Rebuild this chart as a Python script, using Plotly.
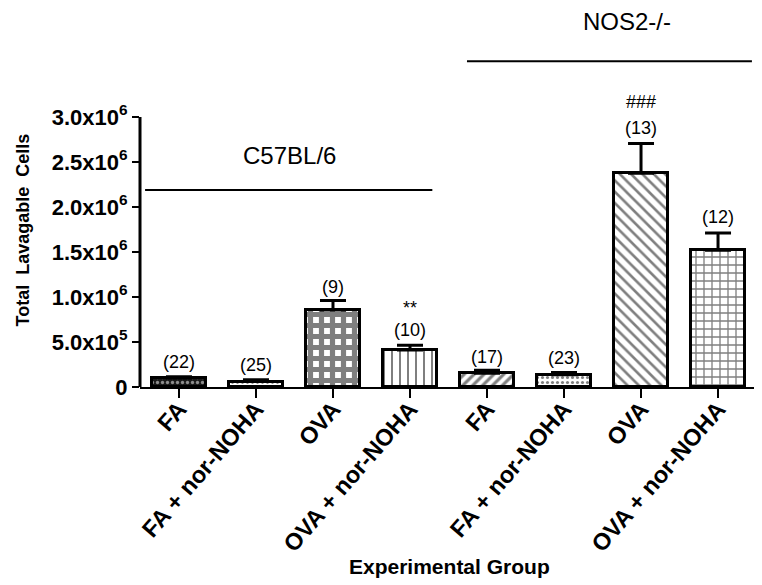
import plotly.graph_objects as go

categories = ["FA", "FA + nor-NOHA", "OVA", "OVA + nor-NOHA",
              "FA ", "FA + nor-NOHA ", "OVA ", "OVA + nor-NOHA "]
means = [1.0e5, 0.6e5, 8.56e5, 4.1e5, 1.52e5, 1.35e5, 2.375e6, 1.52e6]
sems = [0.15e5, 0.2e5, 1.05e5, 0.55e5, 0.35e5, 0.25e5, 3.3e5, 1.9e5]
n_labels = ["(22)", "(25)", "(9)", "(10)", "(17)", "(23)", "(13)", "(12)"]
n_label_y = [2.8e5, 2.45e5, 1.11e6, 6.3e5, 3.3e5, 3.2e5, 2.88e6, 1.89e6]
sig_labels = ["", "", "", "**", "", "", "###", ""]
sig_label_y = [0, 0, 0, 8.8e5, 0, 0, 3.17e6, 0]
ytick_vals = [0, 5e5, 1e6, 1.5e6, 2e6, 2.5e6, 3e6]
ytick_text = ["0", "5.0x10<sup>5</sup>", "1.0x10<sup>6</sup>", "1.5x10<sup>6</sup>",
              "2.0x10<sup>6</sup>", "2.5x10<sup>6</sup>", "3.0x10<sup>6</sup>"]
groups = ["C57BL/6", "NOS2-/-"]
group_line_x = [(-0.44, 3.29), (3.74, 7.44)]
group_line_y = [2.19e6, 3.62e6]
group_text_x = [1.44, 5.82]
group_text_y_paper = [0.678, 1.07]

patterns = [
    dict(shape=".", bgcolor="#1a1a1a", fgcolor="white", size=5, solidity=0.35),
    dict(shape=".", bgcolor="white", fgcolor="black", size=5, solidity=0.25),
    dict(shape="+", bgcolor="white", fgcolor="black", size=11, solidity=0.72),
    dict(shape="|", bgcolor="white", fgcolor="black", size=8, solidity=0.25),
    dict(shape="/", bgcolor="white", fgcolor="black", size=7, solidity=0.45),
    dict(shape=".", bgcolor="white", fgcolor="black", size=5, solidity=0.3),
    dict(shape="\\", bgcolor="white", fgcolor="black", size=8, solidity=0.33),
    dict(shape="+", bgcolor="white", fgcolor="black", size=8, solidity=0.3),
]

fig = go.Figure()
x_idx = list(range(len(categories)))
for i in x_idx:
    fig.add_trace(go.Bar(
        x=[i], y=[means[i]], width=0.69,
        marker=dict(color="white", line=dict(color="black", width=3),
                    pattern=dict(fillmode="overlay", **patterns[i])),
        error_y=dict(type="data", symmetric=False, array=[sems[i]], arrayminus=[0],
                     color="black", thickness=3, width=13),
        showlegend=False,
    ))

ann = []
for i in x_idx:
    ann.append(dict(x=i, y=n_label_y[i], text=n_labels[i], showarrow=False,
                    font=dict(size=18, color="black"), xref="x", yref="y",
                    xanchor="center", yanchor="middle"))
    if sig_labels[i]:
        ann.append(dict(x=i, y=sig_label_y[i], text=sig_labels[i], showarrow=False,
                        font=dict(size=18, color="black"), xref="x", yref="y",
                        xanchor="center", yanchor="middle"))
for g in range(2):
    ann.append(dict(x=group_text_x[g], y=group_text_y_paper[g], text=groups[g],
                    showarrow=False, font=dict(size=24, color="black"),
                    xref="x", yref="paper", xanchor="center", yanchor="middle"))
ann.append(dict(x=0.502, y=-0.526, xref="paper", yref="paper", text="<b>Experimental Group</b>",
                showarrow=False, font=dict(size=21, color="black"),
                xanchor="center", yanchor="middle"))
ann.append(dict(x=-0.19, y=0.46, xref="paper", yref="paper", textangle=-90,
                text="<b>Total  Lavagable  Cells</b>", showarrow=False,
                font=dict(size=18, color="black"), xanchor="center", yanchor="middle"))

shapes = [dict(type="line", xref="paper", x0=0, x1=0, yref="y", y0=0, y1=3e6,
               line=dict(color="black", width=3))]
for g in range(2):
    shapes.append(dict(type="line", xref="x", yref="y", x0=group_line_x[g][0],
                       x1=group_line_x[g][1], y0=group_line_y[g], y1=group_line_y[g],
                       line=dict(color="black", width=2)))

fig.update_layout(
    width=754, height=577,
    margin=dict(l=132, r=5, t=37, b=198, autoexpand=False),
    plot_bgcolor="white", paper_bgcolor="white",
    font=dict(family="Liberation Sans, Arial, sans-serif", color="black"),
    bargap=0,
    annotations=ann, shapes=shapes,
    xaxis=dict(range=[-0.506, 7.506], tickvals=x_idx,
               ticktext=[f"<b>{c.strip()}</b>" for c in categories],
               tickangle=-49, ticks="outside", ticklen=9, tickwidth=2, tickcolor="black",
               showline=True, linecolor="black", linewidth=2, showgrid=False,
               zeroline=False, tickfont=dict(size=23.5, color="black"),
               ticklabelstandoff=-12, automargin=False),
    yaxis=dict(range=[0, 3.8e6], tickvals=ytick_vals, ticktext=ytick_text,
               ticks="outside", ticklen=7, tickwidth=2, tickcolor="black",
               showline=False, showgrid=False, zeroline=False, automargin=False,
               tickfont=dict(size=22, color="black", weight="bold")),
)

fig.write_html("out.html")
